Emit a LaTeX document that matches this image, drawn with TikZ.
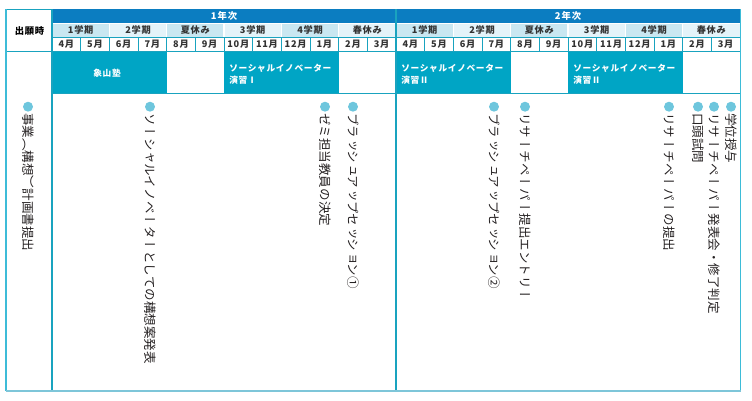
\documentclass[tikz,border=0pt]{standalone}
\usepackage{fontspec}
\newfontfamily\jp{Noto Sans CJK JP}
\newfontfamily\jpv{Noto Sans CJK JP}[Vertical=RotatedGlyphs]
\definecolor{yearblue}{HTML}{0B7DC1}
\definecolor{termdark}{HTML}{C9E7F1}
\definecolor{termlight}{HTML}{E4F3F9}
\definecolor{tealbox}{HTML}{00A5C5}
\definecolor{gridc}{HTML}{19A3BF}
\definecolor{dotc}{HTML}{6EC6DD}
\definecolor{outerc}{HTML}{3DBCD8}
\definecolor{bottomc}{HTML}{7EC6D9}
\definecolor{hdtext}{HTML}{333333}
\definecolor{bodytext}{HTML}{231F20}
\begin{document}
\begin{tikzpicture}[x=0.75pt,y=-0.75pt,
  hd/.style={font=\jp\bfseries\fontsize{6.9}{8}\selectfont\addfontfeature{LetterSpace=8}, text=hdtext, inner sep=0},
  yr/.style={font=\jp\bfseries\fontsize{7}{8}\selectfont\addfontfeature{LetterSpace=10}, text=white, inner sep=0},
  vt/.style={font=\jpv\fontsize{9.4}{9.4}\selectfont, text=bodytext, rotate=-90, anchor=west, inner sep=0},
  dot/.style={circle, fill=dotc, minimum size=7.5pt, inner sep=0},
  bx/.style={fill=tealbox, draw=none},
  lbl/.style={font=\jp\bfseries\fontsize{6.5}{9}\selectfont\addfontfeature{LetterSpace=8}, text=white, inner sep=0, align=left},
  gridl/.style={draw=gridc, line width=0.7pt}
]
\useasboundingbox (0,0) rectangle (752,400);
% year header
\fill[yearblue] (52,9) rectangle (740,23.5);
\node[yr] (y1) at (224,16.3) {1年次};
\node[yr] (y2) at (568,16.3) {2年次};
% term row and months
\foreach \yy in {0,1}{
  \foreach \t [count=\c from 0] in {1学期,2学期,夏休み,3学期,4学期,春休み}{
    \pgfmathsetmacro\tx{52+(\yy*6+\c)*57.3333}
    \pgfmathtruncatemacro\odd{mod(\c,2)}
    \ifnum\odd=0 \fill[termdark] (\tx,23.5) rectangle ++(57.3333,13.5);
    \else \fill[termlight] (\tx,23.5) rectangle ++(57.3333,13.5); \fi
    \node[hd] (term\yy-\c) at ({\tx+28.6667},30.4) {\t};
  }
  \foreach \m [count=\c from 0] in {4,5,6,7,8,9,10,11,12,1,2,3}{
    \node[hd] (mon\yy-\c) at ({52+(\yy*12+\c+0.5)*28.6667},44.2) {\m 月};
  }
}
\foreach \k in {1,...,11}{
  \draw[white, line width=0.8pt] ({52+\k*57.3333},23.5) -- ++(0,13.5);
}
\foreach \k in {1,...,23}{
  \draw[gridl] ({52+\k*28.6667},37) -- ++(0,14);
}
\draw[white, line width=0.5pt] (52,23.5) -- (740,23.5);
\draw[gridl] (52,37) -- (740,37);
% header left
\node[font=\jp\bfseries\fontsize{7}{8}\selectfont\addfontfeature{LetterSpace=8}, text=black, inner sep=0] (apply) at (29.5,30.5) {出願時};
% box row
\fill[bx] (52,51) rectangle (166.67,93);
\fill[bx] (224,51) rectangle (338.67,93);
\fill[bx] (396,51) rectangle (510.67,93);
\fill[bx] (568,51) rectangle (682.67,93);
\node[lbl] (b1) at (107,73.5) {象山塾};
\node[lbl, anchor=north west] (b2) at (229,63.5) {ソーシャルイノベーター\\演習Ⅰ};
\node[lbl, anchor=north west] (b3) at (401,63.5) {ソーシャルイノベーター\\演習Ⅱ};
\node[lbl, anchor=north west] (b4) at (573,63.5) {ソーシャルイノベーター\\演習Ⅱ};
% horizontal lines
\draw[gridl] (6,51) -- (740,51);
\draw[gridl] (52,93) -- (740,93);
\draw[gridl] (6,9) -- (52,9);
% main verticals
\draw[gridl, line width=0.9pt] (52,9) -- (52,391);
\draw[gridl, line width=0.9pt] (396,9) -- (396,391);
% outer frame
\draw[outerc, line width=1.1pt] (6,9) -- (6,391);
\draw[outerc, line width=1.1pt] (740.5,9) -- (740.5,391);
\draw[bottomc, line width=1.6pt] (5.5,391) -- (741,391);
% body items
\node[dot] (d1) at (28,106.7) {};
\node[vt] (t1) at (28,113) {事業（構想）計画書提出};
\node[dot] (d2) at (150,106.7) {};
\node[vt] (t2) at (150,113) {ソーシャルイノベーターとしての構想案発表};
\node[dot] (d3) at (325,106.7) {};
\node[vt] (t3) at (325,113) {ゼミ担当教員の決定};
\node[dot] (d4) at (353,106.7) {};
\node[vt] (t4) at (353,113) {ブラッシュアップセッション①};
\node[dot] (d5) at (494,106.7) {};
\node[vt] (t5) at (494,113) {ブラッシュアップセッション②};
\node[dot] (d6) at (525,106.7) {};
\node[vt] (t6) at (525,113) {リサーチペーパー提出エントリー};
\node[dot] (d7) at (669,106.7) {};
\node[vt] (t7) at (669,113) {リサーチペーパーの提出};
\node[dot] (d8) at (698,106.7) {};
\node[vt] (t8) at (698,113) {口頭試問};
\node[dot] (d9) at (714,106.7) {};
\node[vt] (t9) at (714,113) {リサーチペーパー発表会・修了判定};
\node[dot] (d10) at (731,106.7) {};
\node[vt] (t10) at (731,113) {学位授与};
\end{tikzpicture}
\end{document}
